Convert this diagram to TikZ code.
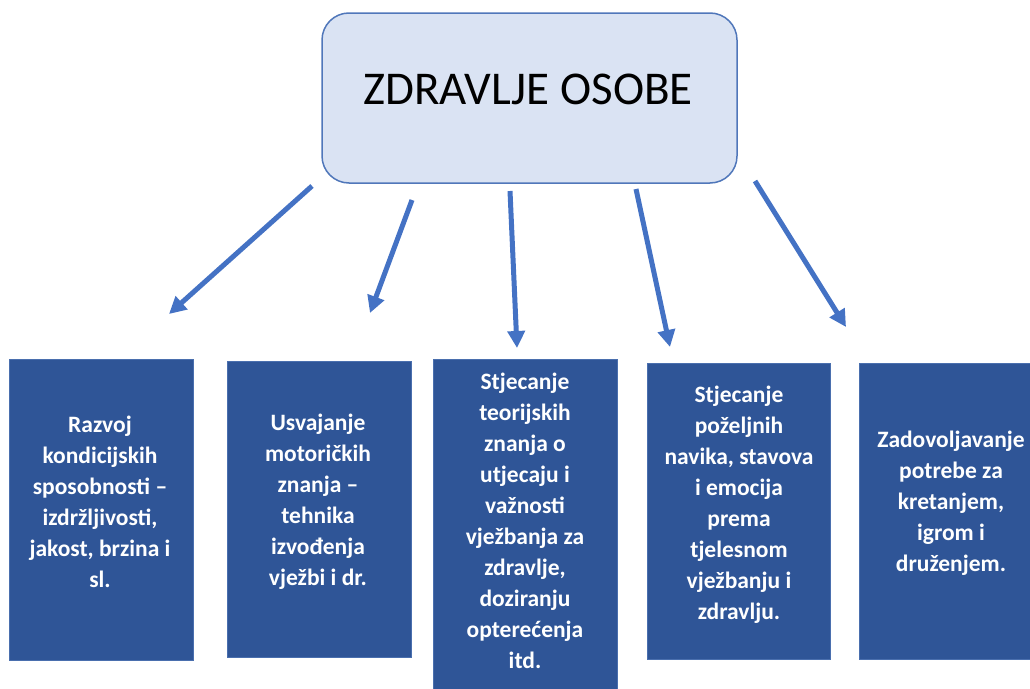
\documentclass[tikz,border=0pt]{standalone}
\usepackage{fontspec}
\setmainfont{Carlito}
\usetikzlibrary{arrows.meta}
\definecolor{boxblue}{HTML}{2F5597}
\definecolor{boxedge}{HTML}{4A6FAE}
\definecolor{topfill}{HTML}{DAE3F3}
\definecolor{topedge}{HTML}{5077BA}
\definecolor{arrowblue}{HTML}{4472C4}
\tikzset{
  bluebox/.style={rectangle, fill=boxblue, draw=boxedge, line width=0.8pt, inner sep=0pt},
  boxtext/.style={text=white, font=\fontsize{23.5}{31}\selectfont\bfseries, align=center, inner sep=0pt},
  topbox/.style={rectangle, rounded corners=27pt, fill=topfill, draw=topedge, line width=1.5pt,
    minimum width=415pt, minimum height=170pt},
  conn/.style={draw=arrowblue, line width=5pt, -{Triangle[width=17pt,length=17pt]}}
}
\begin{document}
\begin{tikzpicture}[x=1pt,y=-1pt]
\useasboundingbox (0,0) rectangle (1030,688);
\begin{scope}
\clip (0,0) rectangle (1030,688);
\node[topbox] (top) at (529.5,98) {};
\node[font=\fontsize{47}{56}\selectfont] (title) at (528,89) {ZDRAVLJE OSOBE};

\node[bluebox, minimum width=184pt, minimum height=301pt] (b1) at (101,509.5) {};
\node[bluebox, minimum width=184pt, minimum height=296pt] (b2) at (319,509) {};
\node[bluebox, minimum width=184pt, minimum height=334pt] (b3) at (525,526) {};
\node[bluebox, minimum width=183pt, minimum height=296pt] (b4) at (738.5,511) {};
\node[bluebox, minimum width=184pt, minimum height=296pt] (b5) at (951,511) {};

\node[boxtext] (t1) at (100,502)
  {Razvoj\\kondicijskih\\sposobnosti --\\izdržljivosti,\\jakost, brzina i\\sl.};
\node[boxtext] (t2) at (318,502)
  {Usvajanje\\motoričkih\\znanja --\\tehnika\\izvođenja\\vježbi i dr.};
\node[boxtext] (t3) at (525,521)
  {Stjecanje\\teorijskih\\znanja o\\utjecaju i\\važnosti\\vježbanja za\\zdravlje,\\doziranju\\opterećenja\\itd.};
\node[boxtext] (t4) at (739,505)
  {Stjecanje\\poželjnih\\navika, stavova\\i emocija\\prema\\tjelesnom\\vježbanju i\\zdravlju.};
\node[boxtext] (t5) at (951,503)
  {Zadovoljavanje\\potrebe za\\kretanjem,\\igrom i\\druženjem.};

\coordinate (s1) at (312,186);
\coordinate (e1) at (169,314);
\coordinate (s2) at (412,200);
\coordinate (e2) at (370,313);
\coordinate (s3) at (510,191);
\coordinate (e3) at (517,348);
\coordinate (s4) at (636,189);
\coordinate (e4) at (670,347);
\coordinate (s5) at (755,181);
\coordinate (e5) at (846,327);
\draw[conn] (s1) -- (e1);
\draw[conn] (s2) -- (e2);
\draw[conn] (s3) -- (e3);
\draw[conn] (s4) -- (e4);
\draw[conn] (s5) -- (e5);
\end{scope}
\end{tikzpicture}
\end{document}
